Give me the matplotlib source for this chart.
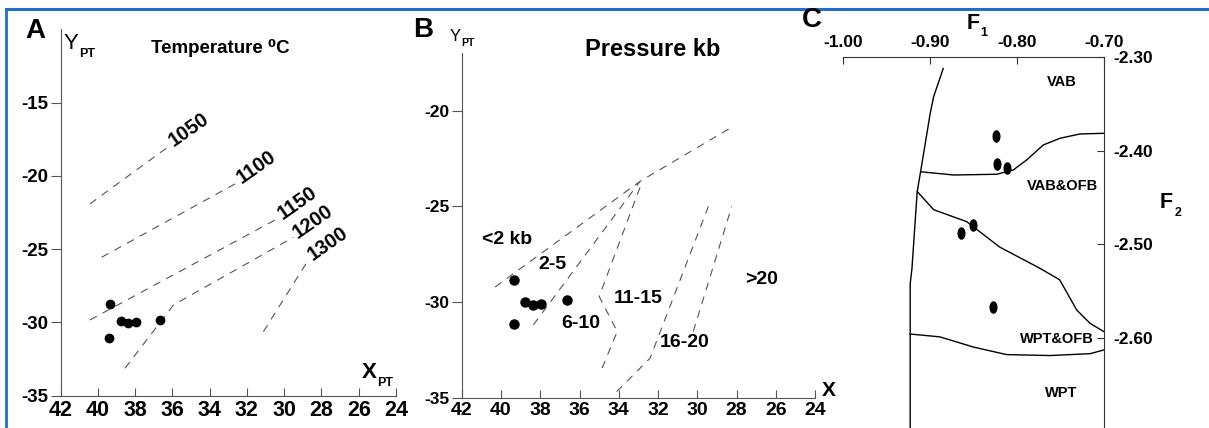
import matplotlib
matplotlib.use('Agg')
import matplotlib.pyplot as plt
from matplotlib.lines import Line2D
from matplotlib.markers import MarkerStyle
from matplotlib.transforms import Affine2D

plt.rcParams['font.family'] = ['Liberation Sans', 'DejaVu Sans']
plt.rcParams['font.weight'] = 'bold'
plt.rcParams['axes.unicode_minus'] = False

W, H = 1209, 428

###################################################
# DATA
###################################################
# Panel A - temperature
a_x = [39.37, 39.39, 38.78, 38.37, 37.97, 36.65]
a_y = [-28.74, -31.04, -29.88, -30.06, -29.99, -29.81]
iso_t_labels = ['1050', '1100', '1150', '1200', '1300']
iso_t_x = [[40.43, 36.13], [39.80, 32.52], [40.43, 30.32],
           [38.55, 35.95, 29.51], [31.12, 28.71]]
iso_t_y = [[-21.91, -17.92], [-25.55, -20.46], [-29.83, -22.89],
           [-33.13, -28.81, -24.19], [-30.63, -25.74]]
a_xticks = list(range(42, 23, -2))
a_yticks = [-35, -30, -25, -20, -15]

# Panel B - pressure
b_x = [39.35, 39.35, 38.76, 38.35, 37.96, 36.62]
b_y = [-28.82, -31.12, -30.00, -30.16, -30.09, -29.90]
iso_p_x = [[40.30, 32.92, 28.25], [38.35, 32.92],
           [32.92, 35.00, 34.08, 34.96], [34.11, 32.41, 29.44], [30.21, 28.25]]
iso_p_y = [[-29.20, -23.69, -20.87], [-31.17, -23.69],
           [-24.00, -29.69, -31.52, -33.70], [-34.65, -32.91, -25.00], [-31.52, -25.00]]
p_labels = ['<2 kb', '2-5', '6-10', '11-15', '16-20', '>20']
p_lab_x = [39.68, 37.37, 35.93, 33.01, 30.67, 26.73]
p_lab_y = [-26.73, -28.04, -31.12, -29.81, -32.10, -28.82]
b_xticks = list(range(42, 23, -2))
b_yticks = [-35, -30, -25, -20]

# Panel C - F1 / F2 discrimination
c_x = [-0.824, -0.8235, -0.812, -0.851, -0.864, -0.828]
c_y = [-2.384, -2.414, -2.418, -2.479, -2.488, -2.567]
c_left_x = [-0.885, -0.896, -0.900, -0.911, -0.915, -0.921, -0.923, -0.923]
c_left_y = [-2.312, -2.342, -2.360, -2.422, -2.444, -2.526, -2.542, -2.70]
c_up_x = [-0.911, -0.873, -0.8235, -0.8044, -0.789, -0.7699, -0.7506, -0.7276, -0.7008]
c_up_y = [-2.4224, -2.4259, -2.4251, -2.4205, -2.4098, -2.3938, -2.3866, -2.382, -2.3813]
c_mid_x = [-0.9148, -0.896, -0.858, -0.820, -0.7737, -0.751, -0.7314, -0.7161, -0.700]
c_mid_y = [-2.4437, -2.463, -2.4758, -2.503, -2.5257, -2.538, -2.5703, -2.5845, -2.5935]
c_low_x = [-0.923, -0.889, -0.850, -0.812, -0.762, -0.716, -0.700]
c_low_y = [-2.596, -2.599, -2.610, -2.618, -2.619, -2.617, -2.613]
c_labels = ['VAB', 'VAB&OFB', 'WPT&OFB', 'WPT']
c_lab_x = [-0.749, -0.748, -0.754, -0.749]
c_lab_y = [-2.326, -2.438, -2.601, -2.659]
c_xticks = [-1.00, -0.90, -0.80, -0.70]
c_yticks = [-2.30, -2.40, -2.50, -2.60]


###################################################
# HELPERS
###################################################
fig = plt.figure(figsize=(W / 100, H / 100), dpi=100)


def px_axes(l, t, r, b):
    return fig.add_axes([l / W, 1 - b / H, (r - l) / W, (b - t) / H])


def ftext(x, y, s, **kw):
    fig.text(x / W, 1 - y / H, s, ha='center', va='center', **kw)


def style_xy(ax, xticks, yticks, xsize, ysize):
    ax.spines[['top', 'right']].set_visible(False)
    ax.spines[['left', 'bottom']].set_color('#555555')
    ax.tick_params(axis='x', direction='in', length=6, color='#555555', pad=3)
    ax.tick_params(axis='y', direction='out', length=7, color='#555555', pad=2)
    ax.set_xticks(xticks, [str(v) for v in xticks], fontsize=xsize, fontweight='bold')
    ax.set_yticks(yticks, [str(v) for v in yticks], fontsize=ysize, fontweight='bold')


dash_kw = dict(color='#555555', lw=0.8, dashes=(7, 6))

###################################################
# PANEL A
###################################################
ax_a = px_axes(60.7, 29.4, 396, 395.7)
ax_a.set_xlim(42, 24)
ax_a.set_ylim(-35, -10)
style_xy(ax_a, a_xticks, a_yticks, 15.5, 13.5)
for xs, ys, lab in zip(iso_t_x, iso_t_y, iso_t_labels):
    ax_a.plot(xs, ys, **dash_kw)
    ax_a.annotate(lab, (xs[-1], ys[-1]), xytext=(3, -1), textcoords='offset points',
                  rotation=35, rotation_mode='anchor', ha='left', va='baseline',
                  fontsize=14.5)
ax_a.plot(a_x, a_y, ls='none', marker='o', ms=6, color='black')

ftext(35, 31, 'A', fontsize=20)
ftext(71.3, 43.3, 'Y', fontsize=16, fontweight='normal')
ftext(87, 53.7, 'PT', fontsize=9)
ftext(220.7, 47.7, 'Temperature \u2070C', fontsize=13.5)
ftext(369, 372.3, 'X', fontsize=16)
ftext(384.7, 383.3, 'PT', fontsize=9)

###################################################
# PANEL B
###################################################
ax_b = px_axes(461.7, 53, 815.2, 398.3)
ax_b.set_xlim(42, 24)
ax_b.set_ylim(-35, -17)
style_xy(ax_b, b_xticks, b_yticks, 14, 12.5)
for xs, ys in zip(iso_p_x, iso_p_y):
    ax_b.plot(xs, ys, **dash_kw)
for lab, x, y in zip(p_labels, p_lab_x, p_lab_y):
    ax_b.text(x, y, lab, ha='center', va='center', fontsize=14)
ax_b.plot(b_x, b_y, ls='none', marker='o', ms=6.5, color='black')

ftext(423.3, 30, 'B', fontsize=20)
ftext(455, 36.7, 'Y', fontsize=12, fontweight='normal')
ftext(468.3, 43.3, 'PT', fontsize=7.5)
ftext(652.3, 49.3, 'Pressure kb', fontsize=17)
ftext(828.3, 390.7, 'X', fontsize=15)

###################################################
# PANEL C
###################################################
ax_c = px_axes(843.3, 57.3, 1104, 428)
ax_c.set_xlim(-1.00, -0.70)
ax_c.set_ylim(-2.6965, -2.30)
ax_c.spines[['left', 'bottom']].set_visible(False)
ax_c.spines[['top', 'right']].set_color('#333333')
ax_c.xaxis.tick_top()
ax_c.yaxis.tick_right()
ax_c.tick_params(direction='in', length=5, color='#333333')
ax_c.tick_params(axis='x', pad=5)
ax_c.tick_params(axis='y', pad=7)
narrow = ['Liberation Sans Narrow', 'Liberation Sans']
ax_c.set_xticks(c_xticks, ['%.2f' % v for v in c_xticks], fontsize=12.5,
                fontweight='bold', family=narrow)
ax_c.set_yticks(c_yticks, ['%.2f' % v for v in c_yticks], fontsize=12.5,
                fontweight='bold', family=narrow)

for xs, ys in [(c_left_x, c_left_y), (c_up_x, c_up_y), (c_mid_x, c_mid_y), (c_low_x, c_low_y)]:
    ax_c.plot(xs, ys, color='black', lw=1, clip_on=False)
ell = MarkerStyle('o', transform=Affine2D().scale(0.6, 1.0))
ax_c.plot(c_x, c_y, ls='none', marker=ell, ms=8, color='black')
for lab, x, y in zip(c_labels, c_lab_x, c_lab_y):
    ax_c.text(x, y, lab, ha='center', va='center', fontsize=10.5)

ftext(811.7, 20, 'C', fontsize=20)
ftext(973.3, 23.3, 'F', fontsize=15.5)
ftext(984, 33, '1', fontsize=9)
ftext(1166, 203, 'F', fontsize=15.5)
ftext(1178, 213, '2', fontsize=9)

###################################################
# BLUE FRAME
###################################################
frame = '#1f6fc5'
fig.add_artist(Line2D([6 / W, 1], [1 - 8.5 / H, 1 - 8.5 / H], color=frame, lw=2.2,
                      transform=fig.transFigure))
fig.add_artist(Line2D([6 / W, 6 / W], [0, 1 - 8.5 / H], color=frame, lw=2,
                      transform=fig.transFigure))

fig.savefig('out.png', dpi=100)
